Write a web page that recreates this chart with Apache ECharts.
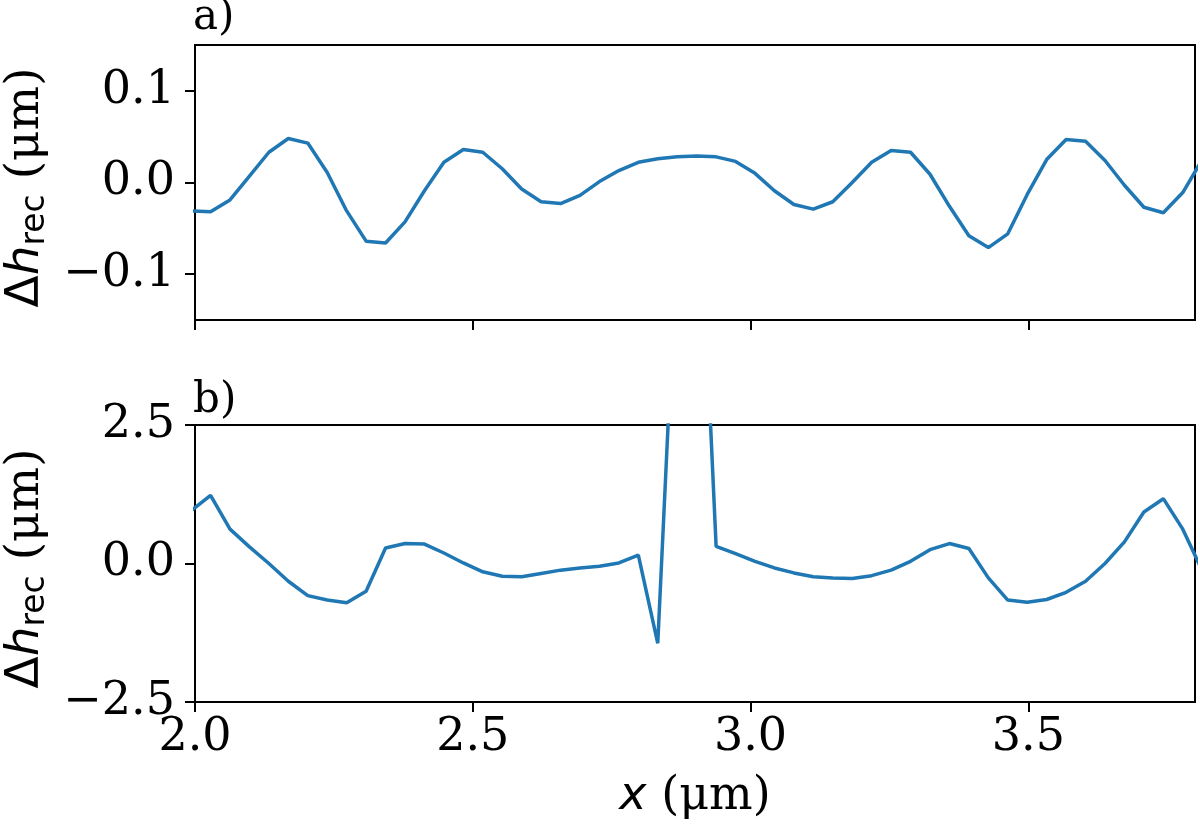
<!DOCTYPE html>
<html>
<head>
<meta charset="utf-8">
<script src="https://cdn.jsdelivr.net/npm/echarts@6/dist/echarts.min.js"></script>
<style>
html,body{margin:0;padding:0;background:#fff;}
#chart{width:1200px;height:827px;}
</style>
</head>
<body>
<div id="chart"></div>
<script>
const xValues = [1.993, 2.028, 2.063, 2.098, 2.133, 2.168, 2.203, 2.238, 2.273, 2.308, 2.343, 2.378, 2.413, 2.448, 2.483, 2.518, 2.553, 2.588, 2.623, 2.658, 2.693, 2.728, 2.763, 2.798, 2.833, 2.868, 2.903, 2.938, 2.973, 3.008, 3.043, 3.078, 3.113, 3.148, 3.183, 3.218, 3.253, 3.288, 3.323, 3.358, 3.393, 3.428, 3.463, 3.498, 3.533, 3.568, 3.603, 3.638, 3.673, 3.708, 3.743, 3.778, 3.813];
const panelA = [-0.031, -0.032, -0.019, 0.007, 0.033, 0.048, 0.043, 0.011, -0.031, -0.064, -0.066, -0.043, -0.009, 0.022, 0.036, 0.033, 0.015, -0.007, -0.021, -0.023, -0.014, 0.001, 0.013, 0.022, 0.026, 0.028, 0.029, 0.028, 0.023, 0.010, -0.009, -0.024, -0.029, -0.021, 0.000, 0.022, 0.035, 0.033, 0.009, -0.026, -0.058, -0.071, -0.056, -0.013, 0.025, 0.047, 0.045, 0.024, -0.003, -0.027, -0.033, -0.011, 0.025];
const panelB = [0.95, 1.23, 0.62, 0.30, 0.00, -0.32, -0.58, -0.66, -0.71, -0.50, 0.28, 0.36, 0.35, 0.19, 0.01, -0.15, -0.23, -0.24, -0.18, -0.12, -0.08, -0.05, 0.01, 0.15, -1.44, 6.0, 8.0, 0.31, 0.18, 0.04, -0.08, -0.17, -0.24, -0.26, -0.27, -0.22, -0.12, 0.04, 0.25, 0.36, 0.27, -0.26, -0.66, -0.70, -0.65, -0.52, -0.32, 0.00, 0.39, 0.93, 1.17, 0.62, -0.13];
const xTicks = [2.0, 2.5, 3.0, 3.5];
const yTicksA = [-0.1, 0.0, 0.1];
const yTicksB = [-2.5, 0.0, 2.5];
const panelLabels = ['a)', 'b)'];

const fmt = v => (v < 0 ? '\u2212' : '') + Math.abs(v).toFixed(1);
const SERIF = 'DejaVu Serif';
const SANS = 'DejaVu Sans';
const TICK_FS = 46;
const LBL_FS = 47;
const yNameRich = {
  d: {fontFamily: SANS, fontSize: LBL_FS, color: '#000', lineHeight: 54},
  h: {fontFamily: SANS, fontStyle: 'italic', fontSize: LBL_FS, color: '#000', lineHeight: 54},
  s: {fontFamily: SANS, fontSize: 33, color: '#000', lineHeight: 30, verticalAlign: 'bottom'},
  p: {fontFamily: SERIF, fontSize: LBL_FS, color: '#000', lineHeight: 54, padding: [0, 10, 0, 0]}
};
function yAxisCfg(grid, min, max, ticks) {
  return {
    type: 'value', gridIndex: grid, min: min, max: max,
    axisLine: {show: true, lineStyle: {color: '#000', width: 2}},
    axisTick: {show: true, inside: false, length: 10, lineStyle: {color: '#000', width: 2}, customValues: ticks},
    axisLabel: {show: true, customValues: ticks, formatter: fmt, fontFamily: SERIF, fontSize: TICK_FS, color: '#000', margin: 20},
    splitLine: {show: false},
    name: '{d|\u0394}{h|h}{s|rec}{p| (\u03bcm)}',
    nameLocation: 'middle', nameRotate: 90, nameGap: 134,
    nameTextStyle: {rich: yNameRich}
  };
}
function xAxisCfg(grid, labels) {
  const a = {
    type: 'value', gridIndex: grid, min: 2.0, max: 3.8,
    axisLine: {show: true, onZero: false, lineStyle: {color: '#000', width: 2}},
    axisTick: {show: true, length: 10, lineStyle: {color: '#000', width: 2}, customValues: xTicks},
    axisLabel: {show: labels, customValues: xTicks, formatter: fmt, fontFamily: SERIF, fontSize: TICK_FS, color: '#000', margin: 13},
    splitLine: {show: false}
  };
  if (labels) {
    a.name = '{x|x}{p| (\u03bcm)}';
    a.nameLocation = 'middle';
    a.nameGap = 72;
    a.nameTextStyle = {rich: {
      x: {fontFamily: SANS, fontStyle: 'italic', fontSize: 46, color: '#000'},
      p: {fontFamily: SERIF, fontSize: 46, color: '#000'}
    }};
  }
  return a;
}
const chart = echarts.init(document.getElementById('chart'), null, {renderer: 'canvas'});
chart.setOption({
  animation: false,
  backgroundColor: '#fff',
  title: [
    {text: panelLabels[0], left: 193, top: -3, padding: 0, textStyle: {fontFamily: SERIF, fontSize: 42, fontWeight: 'normal', color: '#000'}},
    {text: panelLabels[1], left: 193, top: 380, padding: 0, textStyle: {fontFamily: SERIF, fontSize: 42, fontWeight: 'normal', color: '#000'}}
  ],
  grid: [
    {left: 195, right: 5, top: 45, height: 275, show: true, borderColor: '#000', borderWidth: 2, backgroundColor: 'transparent', containLabel: false, outerBoundsMode: 'none'},
    {left: 195, right: 5, top: 425, height: 277, show: true, borderColor: '#000', borderWidth: 2, backgroundColor: 'transparent', containLabel: false, outerBoundsMode: 'none'}
  ],
  xAxis: [xAxisCfg(0, false), xAxisCfg(1, true)],
  yAxis: [yAxisCfg(0, -0.15, 0.15, yTicksA), yAxisCfg(1, -2.5, 2.5, yTicksB)],
  series: [
    {type: 'line', xAxisIndex: 0, yAxisIndex: 0, showSymbol: false, clip: true,
     lineStyle: {color: '#1f77b4', width: 3.5}, itemStyle: {color: '#1f77b4'},
     data: xValues.map((x, i) => [x, panelA[i]])},
    {type: 'line', xAxisIndex: 1, yAxisIndex: 1, showSymbol: false, clip: true,
     lineStyle: {color: '#1f77b4', width: 3.5}, itemStyle: {color: '#1f77b4'},
     data: xValues.map((x, i) => [x, panelB[i]])}
  ]
});
</script>
</body>
</html>
